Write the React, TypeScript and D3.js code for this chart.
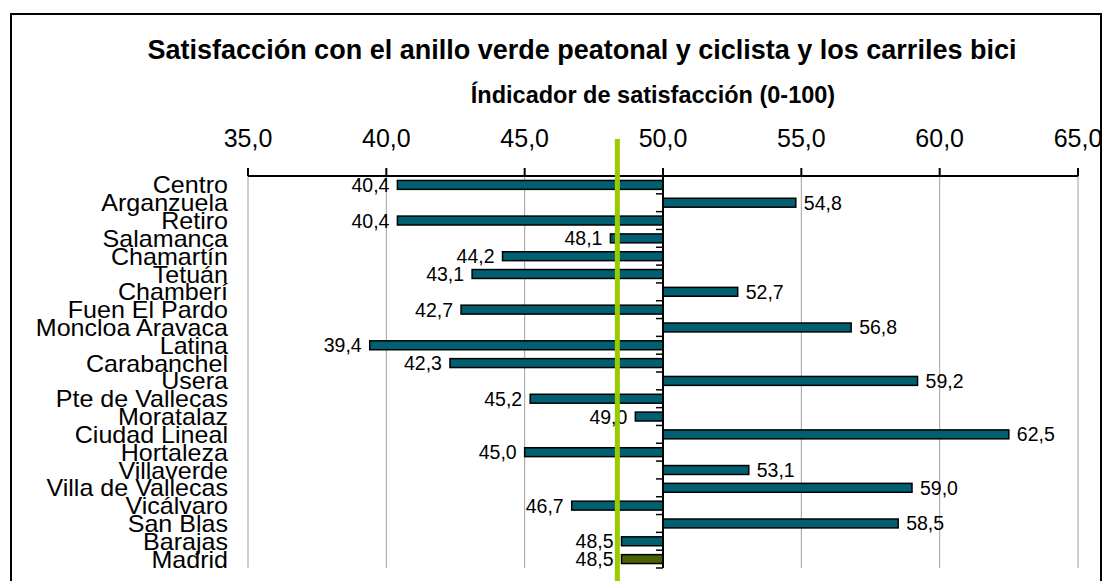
import React from 'react';
import * as d3 from 'd3';

// Districts and satisfaction index (0-100)
const districts = [
  "Centro", "Arganzuela", "Retiro", "Salamanca", "Chamartín", "Tetuán",
  "Chamberí", "Fuen El Pardo", "Moncloa Aravaca", "Latina", "Carabanchel",
  "Usera", "Pte de Vallecas", "Moratalaz", "Ciudad Lineal", "Hortaleza",
  "Villaverde", "Villa de Vallecas", "Vicálvaro", "San Blas", "Barajas", "Madrid"
];
const satisfaction = [
  40.4, 54.8, 40.4, 48.1, 44.2, 43.1,
  52.7, 42.7, 56.8, 39.4, 42.3,
  59.2, 45.2, 49.0, 62.5, 45.0,
  53.1, 59.0, 46.7, 58.5, 48.5, 48.5
];
const xTicks = [35, 40, 45, 50, 55, 60, 65];
const baseValue = 50;
const referenceLine = 48.35;

const title = "Satisfacción con el anillo verde peatonal y ciclista y los carriles bici";
const subtitle = "Índicador de satisfacción (0-100)";

const W = 1111;
const H = 581;
const margin = { top: 176, right: 33, bottom: 13, left: 248 };

const fmt = (v: number) => v.toFixed(1).replace('.', ',');

const App = () => {
  const x = d3.scaleLinear().domain([35, 65]).range([margin.left, W - margin.right]);
  const y = d3.scaleBand<string>()
    .domain(districts)
    .range([margin.top, H - margin.bottom])
    .paddingInner(0.5)
    .paddingOuter(0.25);
  const step = y.step();
  const bandTop = margin.top;
  const plotBottom = H - margin.bottom;
  const font = "'Liberation Sans', Arial, sans-serif";

  return (
    <svg width={W} height={H} style={{ position: 'absolute', left: 0, top: 0, background: '#fff' }}
      fontFamily={font}>
      {/* frame */}
      <rect x={11} y={14} width={1090} height={600} fill="none" stroke="#000" strokeWidth={2} />

      <text x={582} y={59} textAnchor="middle" fontSize={27} fontWeight="bold">{title}</text>
      <text x={653} y={103} textAnchor="middle" fontSize={23.5} fontWeight="bold">{subtitle}</text>

      {/* gridlines */}
      {xTicks.filter(t => t !== baseValue).map(t => (
        <line key={'g' + t} x1={x(t)} x2={x(t)} y1={bandTop} y2={plotBottom} stroke="#a0a0a0" strokeWidth={1} />
      ))}

      {/* top axis */}
      <line x1={x(35)} x2={x(65)} y1={bandTop} y2={bandTop} stroke="#000" strokeWidth={2} />
      {xTicks.map(t => (
        <g key={'t' + t}>
          <line x1={x(t)} x2={x(t)} y1={bandTop - 8} y2={bandTop} stroke="#000" strokeWidth={2} />
          <text x={x(t)} y={147} textAnchor="middle" fontSize={25}>{fmt(t)}</text>
        </g>
      ))}

      {/* bars */}
      {districts.map((d, i) => {
        const v = satisfaction[i];
        const y0 = y(d) as number;
        const x0 = Math.min(x(v), x(baseValue));
        const w = Math.abs(x(v) - x(baseValue));
        return (
          <rect key={'b' + d} x={x0} y={y0} width={w} height={y.bandwidth()}
            fill={d === "Madrid" ? "#4b6200" : "#005f70"} stroke="#000" strokeWidth={1.5} />
        );
      })}

      {/* vertical axis at 50 */}
      <line x1={x(baseValue)} x2={x(baseValue)} y1={bandTop} y2={plotBottom} stroke="#000" strokeWidth={2} />
      {districts.map((d, i) => (
        <line key={'c' + d} x1={x(baseValue) - 7} x2={x(baseValue)}
          y1={bandTop + step * (i + 1)} y2={bandTop + step * (i + 1)} stroke="#000" strokeWidth={1.5} />
      ))}

      {/* category labels (slightly stretched like the original) */}
      {districts.map(d => (
        <text key={'l' + d}
          transform={`translate(228,${(y(d) as number) + y.bandwidth() / 2 + 8.5}) scale(1.09,1)`}
          textAnchor="end" fontSize={23}>{d}</text>
      ))}

      {/* value labels */}
      {districts.map((d, i) => {
        const v = satisfaction[i];
        const left = v < baseValue;
        return (
          <text key={'v' + d} x={left ? x(v) - 8 : x(v) + 8}
            y={(y(d) as number) + y.bandwidth() / 2 + 7}
            textAnchor={left ? 'end' : 'start'} fontSize={19.5}>{fmt(v)}</text>
        );
      })}

      {/* Madrid reference line */}
      <line x1={x(referenceLine)} x2={x(referenceLine)} y1={139} y2={H} stroke="#99cc00" strokeWidth={5} />
    </svg>
  );
};

export default App;
